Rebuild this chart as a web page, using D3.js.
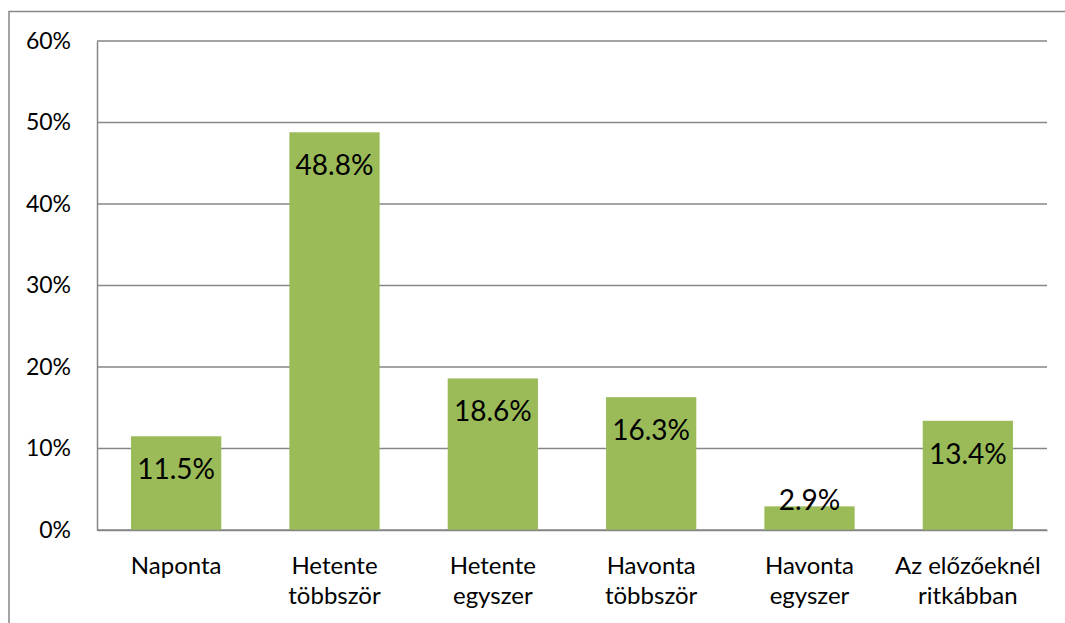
<!DOCTYPE html>
<html>
<head>
<meta charset="utf-8">
<script src="https://cdn.jsdelivr.net/npm/d3@7"></script>
<style>
  html, body { margin: 0; padding: 0; background: #fff; }
  svg { display: block; }
</style>
</head>
<body>
<svg id="chart" width="1065" height="623"></svg>
<script>
const categories = [["Naponta"], ["Hetente", "többször"], ["Hetente", "egyszer"], ["Havonta", "többször"], ["Havonta", "egyszer"], ["Az előzőeknél", "ritkábban"]];
const values = [11.5, 48.8, 18.6, 16.3, 2.9, 13.4];
const yTicks = [0, 10, 20, 30, 40, 50, 60];

const svg = d3.select("#chart");
const W = 1065, H = 623;
const plot = { left: 97, right: 1047, top: 41, bottom: 530 };
const font = "Lato, 'Open Sans', sans-serif";

// chart border (extends beyond the right and bottom edges)
svg.append("rect")
  .attr("x", 9).attr("y", 11.5)
  .attr("width", W + 10).attr("height", H + 10)
  .attr("fill", "none").attr("stroke", "#878787").attr("stroke-width", 1.5);

const idx = categories.map((d, i) => i);
const x = d3.scaleBand().domain(idx).range([plot.left, plot.right])
  .paddingInner(0.43).paddingOuter(0.215);
const y = d3.scaleLinear().domain([0, 60]).range([plot.bottom, plot.top]);

// gridlines
svg.append("g").selectAll("line").data(yTicks).join("line")
  .attr("x1", plot.left).attr("x2", plot.right)
  .attr("y1", d => y(d)).attr("y2", d => y(d))
  .attr("stroke", "#868686").attr("stroke-width", 1.5);

// y axis
const yAxis = d3.axisLeft(y).tickValues(yTicks).tickSize(0).tickPadding(26)
  .tickFormat(d => d + "%");
const gy = svg.append("g").attr("transform", `translate(${plot.left},0)`).call(yAxis);
gy.select(".domain").attr("stroke", "#868686").attr("stroke-width", 1.5);
gy.selectAll("text").attr("font-family", font).attr("font-size", 23).attr("fill", "#000");

// bars
svg.append("g").selectAll("rect").data(values).join("rect")
  .attr("x", (d, i) => x(i)).attr("width", x.bandwidth())
  .attr("y", d => y(d)).attr("height", d => y(0) - y(d))
  .attr("fill", "#9BBB59");

// x axis baseline
const xAxis = d3.axisBottom(x).tickSize(0).tickFormat("");
const gx = svg.append("g").attr("transform", `translate(0,${plot.bottom})`).call(xAxis);
gx.select(".domain").attr("stroke", "#868686").attr("stroke-width", 1.5);

// category labels
const cl = svg.append("g").selectAll("text").data(categories).join("text")
  .attr("x", (d, i) => x(i) + x.bandwidth() / 2)
  .attr("y", 574)
  .attr("text-anchor", "middle")
  .attr("font-family", font).attr("font-size", 24).attr("fill", "#000");
cl.selectAll("tspan").data(d => d).join("tspan")
  .attr("x", function () { return d3.select(this.parentNode).attr("x"); })
  .attr("dy", (d, j) => j === 0 ? 0 : 30)
  .text(d => d);

// data labels
svg.append("g").selectAll("text").data(values).join("text")
  .attr("x", (d, i) => x(i) + x.bandwidth() / 2)
  .attr("y", d => Math.min(y(d) + 43, y(0) - 20))
  .attr("text-anchor", "middle")
  .attr("font-family", font).attr("font-size", 28).attr("fill", "#000")
  .text(d => d.toFixed(1) + "%");
</script>
</body>
</html>
